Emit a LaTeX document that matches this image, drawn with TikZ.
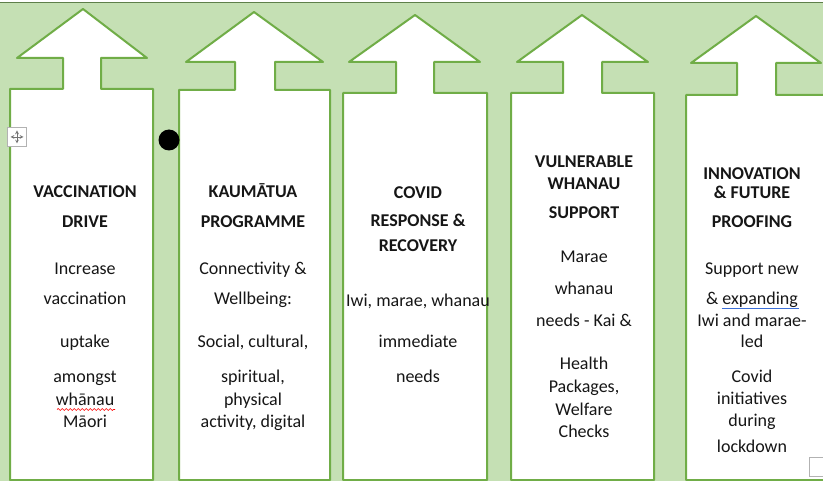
\documentclass[tikz,border=0pt]{standalone}
\usepackage{fontspec}
\setmainfont{Carlito}
\usetikzlibrary{decorations.pathmorphing}
\definecolor{bggreen}{HTML}{C5E0B4}
\definecolor{edgegreen}{HTML}{70AD47}
\definecolor{topline}{HTML}{5E7F4A}
\definecolor{txt}{HTML}{161616}
\definecolor{linkblue}{HTML}{3B6FD8}
\begin{document}
\begin{tikzpicture}[x=1pt,y=-1pt,
  arrowshape/.style={fill=white,draw=edgegreen,line width=2pt,line join=round},
  lbl/.style={anchor=base,text=txt,inner sep=0pt,font=\fontsize{18}{20}\selectfont},
  hd/.style={anchor=base,text=txt,inner sep=0pt,font=\fontsize{18}{20}\selectfont\bfseries}]
\useasboundingbox (0,0) rectangle (823,481);
\clip (0,0) rectangle (823,481);
\fill[white] (0,0) rectangle (823,481);
\fill[bggreen] (0,3) rectangle (823,481);
\draw[topline,line width=1.3pt] (0,2.5) -- (823,2.5);

% arrows
\draw[arrowshape] (83,9) -- (147,58) -- (101,58) -- (101,89) -- (153,89) -- (153,480) -- (10,480) -- (10,89) -- (63,89) -- (63,58) -- (17,58) -- cycle;
\draw[arrowshape] (254,12) -- (323,62) -- (275,62) -- (275,90) -- (330,90) -- (330,480) -- (179,480) -- (179,90) -- (235,90) -- (235,62) -- (186,62) -- cycle;
\draw[arrowshape] (415,15) -- (480,62) -- (434,62) -- (434,93) -- (487,93) -- (487,480) -- (343,480) -- (343,93) -- (396,93) -- (396,62) -- (349,62) -- cycle;
\draw[arrowshape] (582,15) -- (648,62) -- (602,62) -- (602,93) -- (654,93) -- (654,480) -- (511,480) -- (511,93) -- (563,93) -- (563,62) -- (517,62) -- cycle;
\draw[arrowshape] (756,16) -- (821,63) -- (776,63) -- (776,95) -- (828,95) -- (828,480) -- (686,480) -- (686,95) -- (737,95) -- (737,63) -- (691,63) -- cycle;

% column 1
\node[hd] (a1) at (85,198) {VACCINATION};
\node[hd] (a2) at (85,228) {DRIVE};
\node[lbl] (a3) at (85,275) {Increase};
\node[lbl] (a4) at (85,305) {vaccination};
\node[lbl] (a5) at (85,348) {uptake};
\node[lbl] (a6) at (85,383) {amongst};
\node[lbl] (a7) at (85,406) {whānau};
\node[lbl] (a8) at (85,428) {Māori};
\draw[red,line width=0.7pt,decorate,decoration={snake,amplitude=1pt,segment length=4pt}] (57,409.5) -- (115,409.5);

% column 2
\node[hd] (b1) at (253,198) {KAUMĀTUA};
\node[hd] (b2) at (253,228) {PROGRAMME};
\node[lbl] (b3) at (253,275) {Connectivity \&};
\node[lbl] (b4) at (253,305) {Wellbeing:};
\node[lbl] (b5) at (253,348) {Social, cultural,};
\node[lbl] (b6) at (253,383) {spiritual,};
\node[lbl] (b7) at (253,406) {physical};
\node[lbl] (b8) at (253,428) {activity, digital};

% column 3
\node[hd] (c1) at (418,199) {COVID};
\node[hd] (c2) at (418,227) {RESPONSE \&};
\node[hd] (c3) at (418,252) {RECOVERY};
\node[lbl] (c4) at (418,307) {Iwi, marae, whanau};
\node[lbl] (c5) at (418,348) {immediate};
\node[lbl] (c6) at (418,383) {needs};

% column 4
\node[hd] (d1) at (584,168) {VULNERABLE};
\node[hd] (d2) at (584,190) {WHANAU};
\node[hd] (d3) at (584,219) {SUPPORT};
\node[lbl] (d4) at (584,263) {Marae};
\node[lbl] (d5) at (584,295) {whanau};
\node[lbl] (d6) at (584,327) {needs - Kai \&};
\node[lbl] (d7) at (584,370) {Health};
\node[lbl] (d8) at (584,393) {Packages,};
\node[lbl] (d9) at (584,416) {Welfare};
\node[lbl] (d10) at (584,438) {Checks};

% column 5
\node[hd] (e1) at (752,180) {INNOVATION};
\node[hd] (e2) at (752,199) {\& FUTURE};
\node[hd] (e3) at (752,228) {PROOFING};
\node[lbl] (e4) at (752,275) {Support new};
\node[lbl] (e5) at (752,305) {\& expanding};
\node[lbl] (e6) at (752,327) {Iwi and marae-};
\node[lbl] (e7) at (752,348) {led};
\node[lbl] (e8) at (752,383) {Covid};
\node[lbl] (e9) at (752,405) {initiatives};
\node[lbl] (e10) at (752,427) {during};
\node[lbl] (e11) at (752,452) {lockdown};
\draw[linkblue,line width=1pt] (722,308.5) -- (799,308.5);

% extras
\fill[black] (169,140) circle (10.5);
\draw[gray!60,fill=white,line width=0.8pt] (7.5,127.5) rectangle (26.5,146.5);
\draw[gray!90!black,line width=0.7pt,<->,>=stealth] (10.5,137) -- (23.5,137);
\draw[gray!90!black,line width=0.7pt,<->,>=stealth] (17,130.5) -- (17,143.5);
\draw[gray!60,fill=white,line width=1pt] (809.5,457.5) rectangle (830,476);
\end{tikzpicture}
\end{document}
